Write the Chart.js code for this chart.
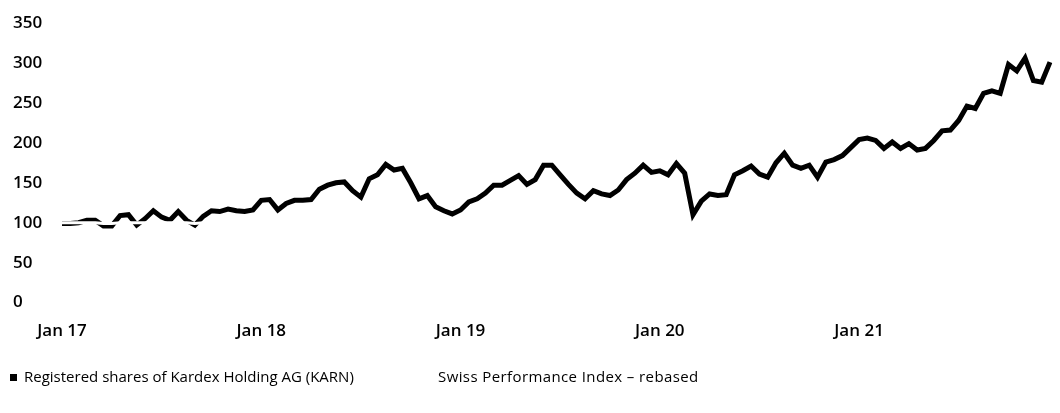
<!DOCTYPE html>
<html>
<head>
<meta charset="utf-8">
<script src="https://cdn.jsdelivr.net/npm/chart.js@4"></script>
<style>
  body { margin: 0; background: #fff; }
  #wrap { position: relative; width: 1060px; height: 413px; }
  .leg { position: absolute; top: 366px; font: 15px 'Open Sans'; color: #000; white-space: nowrap; }
  #leg1 { left: 10px; }
  #leg2 { left: 438px; letter-spacing: 0.4px; }
  .leg span.box { display: inline-block; width: 7px; height: 7px; background: #000; margin-right: 7px; vertical-align: 1px; }
</style>
</head>
<body>
<div id="wrap">
  <canvas id="mychart" width="1060" height="413"></canvas>
  <div class="leg" id="leg1"></div>
  <div class="leg" id="leg2"></div>
</div>
<script>
// half-monthly observations, Jan 2017 - Dec 2021
const months = ['01','02','03','04','05','06','07','08','09','10','11','12'];
const years = ['17','18','19','20','21'];
const yearTicks = ['Jan 17','Jan 18','Jan 19','Jan 20','Jan 21'];
const yTicks = [0, 50, 100, 150, 200, 250, 300, 350];

const karnLabel = 'Registered shares of Kardex Holding AG (KARN)';
const spiLabel = 'Swiss Performance Index \u2013 rebased';

const karn = [
  99, 99, 100, 103, 103, 96, 96, 109, 110, 97, 105, 115, 107, 103, 114, 103, 97, 108, 115, 114, 117, 115, 114, 116,
  128, 129, 116, 124, 128, 128, 129, 142, 147, 150, 151, 140, 132, 155, 160, 173, 166, 168, 150, 130, 134, 120, 115, 111,
  116, 126, 130, 137, 147, 147, 153, 159, 148, 154, 172, 172, 160, 148, 137, 130, 140, 136, 134, 141, 154, 162, 172, 163,
  165, 160, 174, 162, 110, 127, 136, 134, 135, 160, 165, 171, 161, 157, 175, 187, 172, 168, 172, 157, 176, 179, 184, 194,
  204, 206, 203, 193, 201, 193, 199, 191, 193, 203, 215, 216, 228, 246, 243, 262, 265, 262, 298, 290, 306, 278, 276, 301
];
// only the stretch where the index line shows against the share line
const spi = [
  100, 100, 100, 100, 100, 99, 99, 100, 100, 100, 100, 100, 100, 100, 100, 100, 99, 100
];

const dates = [];
years.forEach(y => months.forEach(m => { dates.push('01.' + m + '.' + y); dates.push('15.' + m + '.' + y); }));

document.getElementById('leg1').innerHTML = '<span class="box"></span>' + karnLabel;
document.getElementById('leg2').textContent = spiLabel;

const font = { family: 'Open Sans', size: 17, weight: '600' };

var ctx = document.getElementById('mychart').getContext('2d');
var myChart = new Chart(ctx, {
  type: 'line',
  data: {
    labels: dates,
    datasets: [{
      label: karnLabel,
      data: karn,
      borderColor: '#000',
      backgroundColor: '#000',
      borderWidth: 5,
      pointRadius: 0,
      fill: false,
      order: 1
    },
    {
      label: spiLabel,
      data: spi,
      borderColor: '#fff',
      backgroundColor: '#fff',
      borderWidth: 3,
      pointRadius: 0,
      fill: false,
      order: 0
    }]
  },
  options: {
    responsive: false,
    animation: false,
    devicePixelRatio: 1,
    layout: { padding: { left: 13, right: 10, top: 23, bottom: 54 } },
    plugins: { legend: { display: false }, tooltip: { enabled: false } },
    scales: {
      x: {
        afterFit: axis => { axis.paddingLeft = 0; axis.paddingRight = 0; },
        grid: { display: false, drawTicks: false },
        border: { display: false },
        ticks: {
          autoSkip: false, maxRotation: 0, padding: 18, color: '#000', font: font,
          callback: (v, i) => (i % 24 === 0 ? yearTicks[i / 24] : '')
        }
      },
      y: {
        min: 0, max: 350,
        afterBuildTicks: axis => { axis.ticks = yTicks.map(v => ({ value: v })); },
        afterFit: axis => { axis.width = 49; },
        grid: { display: false, drawTicks: false },
        border: { display: false },
        ticks: { crossAlign: 'far', padding: 3, color: '#000', font: font }
      }
    }
  }
});
</script>
</body>
</html>
